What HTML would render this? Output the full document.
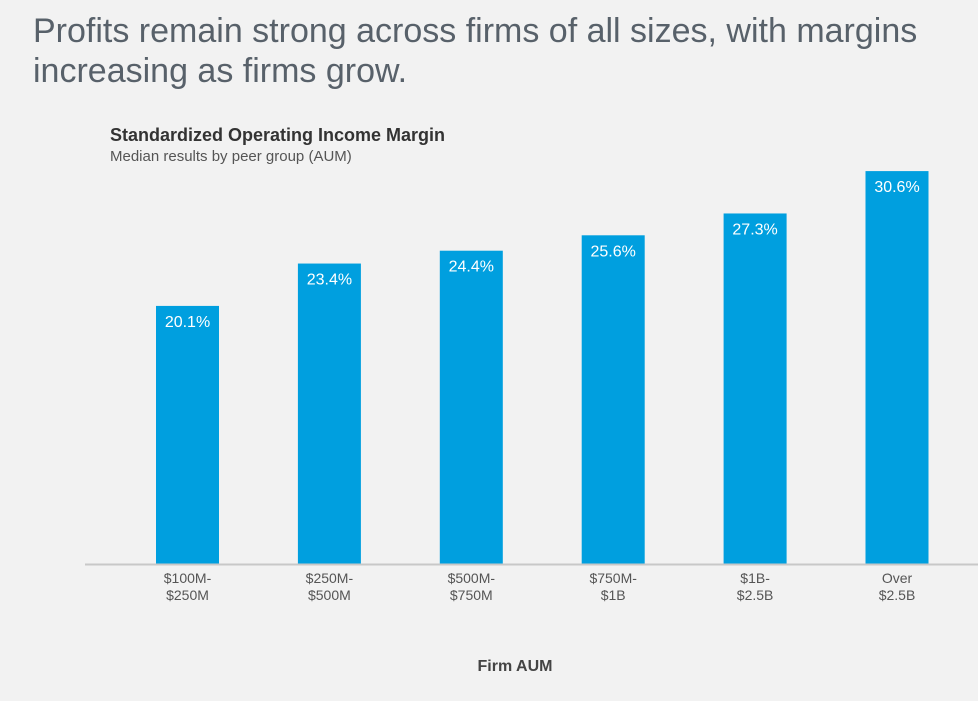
<!DOCTYPE html>
<html><head><meta charset="utf-8"><style>
body{margin:0;width:978px;height:701px;background:#f2f2f2;overflow:hidden;font-family:"Liberation Sans",sans-serif}
#title{position:absolute;left:33px;top:11px;font-size:34px;line-height:40px;color:#58616a;margin:0;font-weight:normal;white-space:nowrap}
#ct{position:absolute;left:110px;top:125px;font-size:18px;font-weight:bold;color:#333}
#cs{position:absolute;left:110px;top:148px;font-size:15px;color:#555}
#xt{position:absolute;left:0;width:1030px;text-align:center;top:658px;font-size:16px;font-weight:bold;color:#444}
</style></head><body>
<h1 id="title">Profits remain strong across firms of all sizes, with margins<br>increasing as firms grow.</h1>
<div id="ct">Standardized Operating Income Margin</div>
<div id="cs">Median results by peer group (AUM)</div>
<svg id="chart" width="978" height="701" style="position:absolute;left:0;top:0"></svg>
<div id="xt">Firm AUM</div>
<script>
const categories=[["$100M-","$250M"],["$250M-","$500M"],["$500M-","$750M"],["$750M-","$1B"],["$1B-","$2.5B"],["Over","$2.5B"]];
const values=[20.1,23.4,24.4,25.6,27.3,30.6];
const valueLabels=["20.1%","23.4%","24.4%","25.6%","27.3%","30.6%"];
const svg=document.getElementById('chart');const NS='http://www.w3.org/2000/svg';
const base=564,scale=12.84,x0=156,step=141.9,bw=63;
const y=v=>base-v*scale;const x=i=>x0+i*step;
function mk(t,a){const e=document.createElementNS(NS,t);for(const k in a)e.setAttribute(k,a[k]);svg.appendChild(e);return e;}
values.forEach((v,i)=>{
const r=mk('rect',{x:x(i),y:y(v),width:bw,height:base-y(v),fill:'#009fdf'});


const t=mk('text',{x:x(i)+bw/2,y:y(v)+21,'text-anchor':'middle','font-size':'16',fill:'#fff'});
t.textContent=valueLabels[i];


categories[i].forEach((s,j)=>{const c=mk('text',{x:x(i)+bw/2,y:583+j*17,'text-anchor':'middle','font-size':'14',fill:'#555'});c.textContent=s;

});
});
const ax=mk('line',{x1:85,x2:978,y1:base+0.5,y2:base+0.5,stroke:'#c8c8c8','stroke-width':2});


</script>
</body></html>
